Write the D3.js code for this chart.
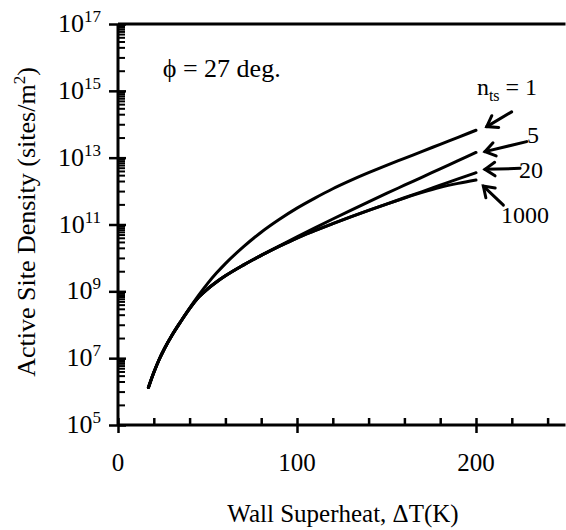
<!DOCTYPE html>
<html>
<head>
<meta charset="utf-8">
<script src="https://cdn.jsdelivr.net/npm/d3@7"></script>
<style>
  body { margin: 0; background: #fff; }
  text { font-family: "Liberation Serif", "Times New Roman", serif; fill: #000; }
</style>
</head>
<body>
<script>
// wall superheat (K) where the curves were read
const superheat = [17, 20, 23, 26, 30, 35, 40, 45, 50, 55, 60, 70, 80, 90, 100, 110, 120, 130, 140, 150, 160, 170, 180, 190, 200];

// log10 of active site density (sites/m2) for each n_ts
const nts1 = [6.12, 6.57, 6.96, 7.29, 7.67, 8.09, 8.50, 8.88, 9.23, 9.545, 9.83, 10.33, 10.77, 11.15, 11.49, 11.79, 12.07, 12.32, 12.55, 12.77, 12.98, 13.19, 13.40, 13.61, 13.82];
const nts5 = [6.12, 6.57, 6.96, 7.29, 7.67, 8.09, 8.48, 8.82, 9.07, 9.28, 9.465, 9.785, 10.075, 10.355, 10.63, 10.90, 11.165, 11.425, 11.68, 11.93, 12.175, 12.42, 12.665, 12.91, 13.155];
const nts20 = [6.12, 6.57, 6.96, 7.29, 7.67, 8.09, 8.48, 8.82, 9.07, 9.28, 9.465, 9.785, 10.075, 10.345, 10.595, 10.815, 11.025, 11.23, 11.425, 11.61, 11.80, 11.985, 12.175, 12.365, 12.55];
const nts1000 = [6.12, 6.57, 6.96, 7.29, 7.67, 8.09, 8.48, 8.82, 9.07, 9.28, 9.465, 9.785, 10.075, 10.345, 10.595, 10.815, 11.025, 11.23, 11.425, 11.61, 11.79, 11.96, 12.11, 12.23, 12.33];

// tick labels
const xMajor = [0, 100, 200];
const xMinor = [20, 40, 60, 80, 120, 140, 160, 180, 220, 240];
const yExponents = [5, 7, 9, 11, 13, 15, 17];
const yMinorFactors = [0.4, 1, 2, 3, 4, 5, 6, 7, 8, 9];

// curve labels: [text, label x, label y, arrow tail x, tail y, head x, head y] in data units (y as log10)
const curveLabels = [
  ["5", 228.5, 13.45, 228.3, 13.48, 205.0, 13.18],
  ["20", 224.0, 12.40, 224.6, 12.68, 205.0, 12.65],
  ["1000", 214.0, 11.05, 215.3, 11.58, 204.1, 12.15]
];

let svgWidth = 566;
let svgHeight = 530;

let svg = d3.select("body")
  .append("svg")
  .attr("width", svgWidth)
  .attr("height", svgHeight);

let x = d3.scaleLinear().domain([0, 250]).range([118, 565.5]);
let y = d3.scaleLog().domain([1e5, 1e17]).range([425, 24]);
let yl = v => y(Math.pow(10, v));

let majorVals = yExponents.map(e => Math.pow(10, e));
let minorVals = [];
yExponents.slice(1).forEach(e => {
  yMinorFactors.forEach(k => minorVals.push(k * Math.pow(10, e - 1)));
});

function tidy(g, w) {
  g.select(".domain").remove();
  g.selectAll("line").attr("stroke", "#000").attr("stroke-width", w);
  g.selectAll("text").remove();
}

// y axis ticks
svg.append("g").attr("transform", `translate(${x(0)},0)`)
  .call(d3.axisLeft(y).tickValues(majorVals).tickSize(9))
  .call(g => tidy(g, 2.5));
svg.append("g").attr("transform", `translate(${x(0)},0)`)
  .call(d3.axisRight(y).tickValues(majorVals).tickSize(8))
  .call(g => tidy(g, 2.5));
svg.append("g").attr("transform", `translate(${x(0)},0)`)
  .call(d3.axisRight(y).tickValues(minorVals).tickSize(7))
  .call(g => tidy(g, 2));

// x axis ticks
svg.append("g").attr("transform", `translate(0,${y(1e5)})`)
  .call(d3.axisBottom(x).tickValues(xMajor).tickSize(8))
  .call(g => tidy(g, 2.5));
svg.append("g").attr("transform", `translate(0,${y(1e5)})`)
  .call(d3.axisTop(x).tickValues(xMajor.concat(xMinor)).tickSize(7))
  .call(g => tidy(g, 2.5));

// axis lines and top frame
let frame = svg.append("g").attr("stroke", "#000").attr("stroke-width", 3);
frame.append("line").attr("x1", x(0)).attr("x2", x(0)).attr("y1", y(1e17)).attr("y2", y(1e5));
frame.append("line").attr("x1", x(0)).attr("x2", x(250)).attr("y1", y(1e5)).attr("y2", y(1e5));
frame.append("line").attr("x1", x(0)).attr("x2", x(250)).attr("y1", y(1e17)).attr("y2", y(1e17));

// y tick labels 10^n
let yLab = svg.append("g").selectAll("text")
  .data(yExponents)
  .enter()
  .append("text")
  .attr("x", x(0) - 17)
  .attr("y", d => y(Math.pow(10, d)) + 8)
  .attr("text-anchor", "end")
  .style("font-size", "26px");
yLab.append("tspan").text("10");
yLab.append("tspan").attr("dy", -10).style("font-size", "17px").text(d => d);

// x tick labels
svg.append("g").selectAll("text")
  .data(xMajor)
  .enter()
  .append("text")
  .attr("x", d => x(d))
  .attr("y", 471)
  .attr("text-anchor", "middle")
  .style("font-size", "25px")
  .text(d => d);

// axis titles
svg.append("text")
  .attr("x", 343)
  .attr("y", 522)
  .attr("text-anchor", "middle")
  .style("font-size", "25px")
  .text("Wall Superheat, \u0394T(K)");

let yTitle = svg.append("text")
  .attr("transform", "translate(35,222) rotate(-90)")
  .attr("text-anchor", "middle")
  .style("font-size", "26px");
yTitle.append("tspan").text("Active Site Density (sites/m");
yTitle.append("tspan").attr("dy", -10).style("font-size", "17px").text("2");
yTitle.append("tspan").attr("dy", 10).text(")");

// curves
let line = d3.line()
  .x((d, i) => x(superheat[i]))
  .y(d => yl(d))
  .curve(d3.curveMonotoneX);

[nts1, nts5, nts20, nts1000].forEach(s => {
  svg.append("path")
    .datum(s)
    .attr("d", line)
    .attr("fill", "none")
    .attr("stroke", "#000")
    .attr("stroke-width", 3)
    .attr("stroke-linecap", "round");
});

// annotation
svg.append("text")
  .attr("x", x(25))
  .attr("y", yl(15.4))
  .style("font-size", "26px")
  .text("\u03D5 = 27 deg.");

// arrows
function arrow(tx, ty, hx, hy) {
  let x1 = x(tx), y1 = yl(ty), x2 = x(hx), y2 = yl(hy);
  let a = Math.atan2(y1 - y2, x1 - x2);
  let len = 12, spread = 0.6;
  let g = svg.append("g").attr("stroke", "#000").attr("stroke-width", 3)
    .attr("fill", "none").attr("stroke-linecap", "round");
  g.append("line").attr("x1", x1).attr("y1", y1).attr("x2", x2).attr("y2", y2);
  g.append("polyline").attr("points", [
    [x2 + len * Math.cos(a + spread), y2 + len * Math.sin(a + spread)],
    [x2, y2],
    [x2 + len * Math.cos(a - spread), y2 + len * Math.sin(a - spread)]
  ].map(p => p.join(",")).join(" "));
}

arrow(219.9, 14.37, 206.0, 13.93);
let ntsLab = svg.append("text")
  .attr("x", x(200.5))
  .attr("y", yl(14.87))
  .style("font-size", "24px");
ntsLab.append("tspan").text("n");
ntsLab.append("tspan").attr("dy", 6).style("font-size", "16px").text("ts");
ntsLab.append("tspan").attr("dy", -6).text(" = 1");

curveLabels.forEach(c => {
  arrow(c[3], c[4], c[5], c[6]);
  svg.append("text")
    .attr("x", x(c[1]))
    .attr("y", yl(c[2]))
    .style("font-size", "24px")
    .text(c[0]);
});
</script>
</body>
</html>
